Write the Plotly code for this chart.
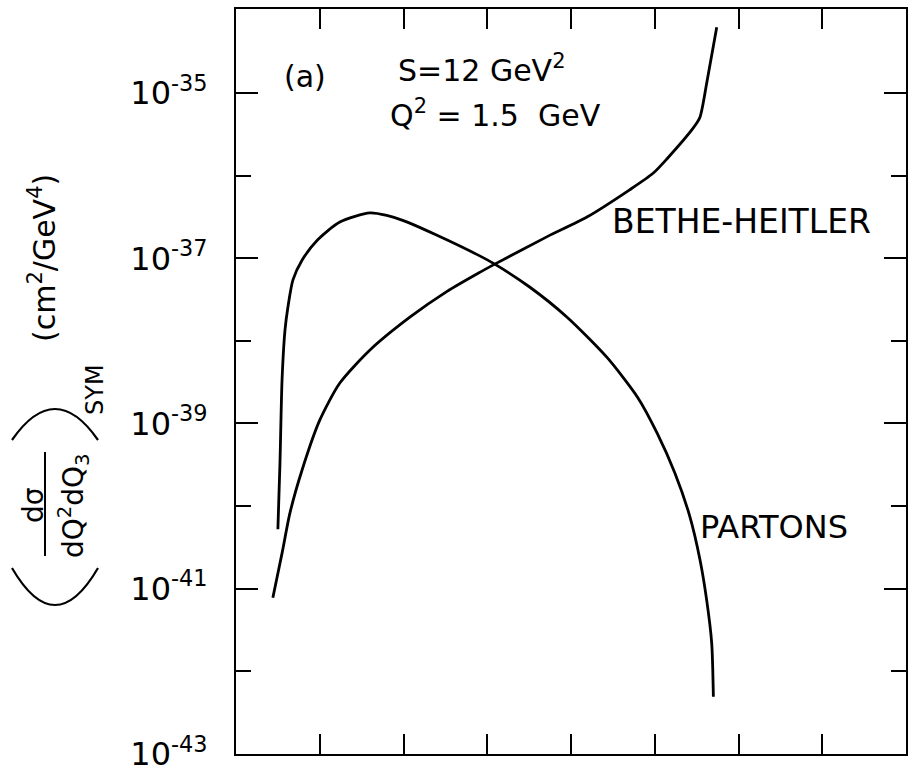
import plotly.graph_objects as go

# Horizontal variable (arbitrary units, unlabelled axis) and log10 of the cross section
parton_x = [0.50, 0.525, 0.55, 0.585, 0.62, 0.68, 0.79, 0.97, 1.24, 1.60, 1.80, 1.99,
            2.40, 2.91, 3.09, 3.51, 3.95, 4.43, 4.80, 5.03, 5.24, 5.42, 5.54, 5.62,
            5.68, 5.70]
parton_logy = [-40.28, -39.48, -38.47, -37.87, -37.59, -37.26, -37.02, -36.78, -36.56,
               -36.45, -36.48, -36.54, -36.72, -36.97, -37.07, -37.35, -37.71, -38.20,
               -38.69, -39.12, -39.60, -40.13, -40.65, -41.14, -41.66, -42.31]

bh_x = [0.44, 0.55, 0.645, 0.79, 1.00, 1.24, 1.60, 2.08, 2.52, 2.91, 3.09, 3.71, 4.19,
        4.70, 4.98, 5.15, 5.46, 5.54, 5.62, 5.74]
bh_logy = [-41.11, -40.57, -40.08, -39.56, -38.96, -38.51, -38.11, -37.71, -37.40,
           -37.17, -37.07, -36.74, -36.50, -36.17, -35.97, -35.79, -35.42, -35.29,
           -34.88, -34.20]

major_exp = [-35, -37, -39, -41, -43]
minor_exp = [-36, -38, -40, -42]
x_ticks = [1, 2, 3, 4, 5, 6, 7]

FONT = "DejaVu Sans"
W, H = 920, 772
L, R, T, B = 236, 14, 9, 18


def px(xp):
    return (xp - L) / (W - L - R)


def py(yp):
    return (H - B - yp) / (H - T - B)


fig = go.Figure()
fig.add_trace(go.Scatter(x=parton_x, y=[10 ** v for v in parton_logy], mode="lines",
                         line=dict(color="black", width=2.8, shape="spline", smoothing=0.7),
                         name="PARTONS", showlegend=False))
fig.add_trace(go.Scatter(x=bh_x, y=[10 ** v for v in bh_logy], mode="lines",
                         line=dict(color="black", width=2.8, shape="spline", smoothing=0.7),
                         name="BETHE-HEITLER", showlegend=False))

fig.update_xaxes(range=[0, 8], tickvals=x_ticks, ticks="inside", ticklen=20, tickwidth=2,
                 tickcolor="black", showticklabels=False, showline=True, linecolor="black",
                 linewidth=2, mirror="ticks", showgrid=False, zeroline=False,
                 automargin=False)
fig.update_yaxes(type="log", range=[-43.003, -33.98],
                 tickvals=[10 ** e for e in major_exp],
                 ticktext=["10<sup>-%d</sup>" % (-e) for e in major_exp],
                 ticks="inside", ticklen=22, tickwidth=2, tickcolor="black",
                 minor=dict(tickvals=[10 ** e for e in minor_exp], ticks="inside",
                            ticklen=15, tickwidth=2, tickcolor="black", showgrid=False),
                 tickfont=dict(family=FONT, size=32, color="black"),
                 ticklabelstandoff=20, ticklabeloverflow="allow",
                 showline=True, linecolor="black", linewidth=2, mirror="ticks",
                 showgrid=False, zeroline=False, automargin=False)

txt = dict(family=FONT, color="black")
ann = []


def add(text, x, y, size, angle=0, xanchor="center"):
    ann.append(dict(text=text, x=px(x), y=py(y), xref="paper", yref="paper",
                    showarrow=False, textangle=angle, xanchor=xanchor, yanchor="middle",
                    font=dict(size=size, **txt)))


# In-plot labels
add("(a)", 305, 76, 30)
add("S=12 GeV<sup>2</sup>", 396, 68, 30, xanchor="left")
add("Q<sup>2</sup> = 1.5  GeV", 388, 113, 30, xanchor="left")
add("BETHE-HEITLER", 741, 222, 33)
add("PARTONS", 774, 527, 32)

# Vertical axis title built from pieces
add("(cm<sup>2</sup>/GeV<sup>4</sup>)", 42, 258, 30, angle=-90)
add("dσ", 33, 505, 28, angle=-90)
add("dQ<sup>2</sup>dQ<sub>3</sub>", 73, 506, 28, angle=-90)
add("SYM", 95, 390, 24, angle=-90)

shapes = [
    # fraction bar
    dict(type="line", xref="paper", yref="paper", x0=px(45), x1=px(45), y0=py(452),
         y1=py(556), line=dict(color="black", width=2)),
    # large parentheses around the fraction (rotated)
    dict(type="path", xref="paper", yref="paper",
         path="M %f,%f Q %f,%f %f,%f" % (px(12), py(440), px(55), py(378), px(98), py(440)),
         line=dict(color="black", width=2.2)),
    dict(type="path", xref="paper", yref="paper",
         path="M %f,%f Q %f,%f %f,%f" % (px(12), py(568), px(55), py(642), px(98), py(568)),
         line=dict(color="black", width=2.2)),
]

fig.update_layout(width=W, height=H, margin=dict(l=L, r=R, t=T, b=B, autoexpand=False),
                  paper_bgcolor="white", plot_bgcolor="white",
                  annotations=ann, shapes=shapes, showlegend=False)

fig.write_html("out.html")
